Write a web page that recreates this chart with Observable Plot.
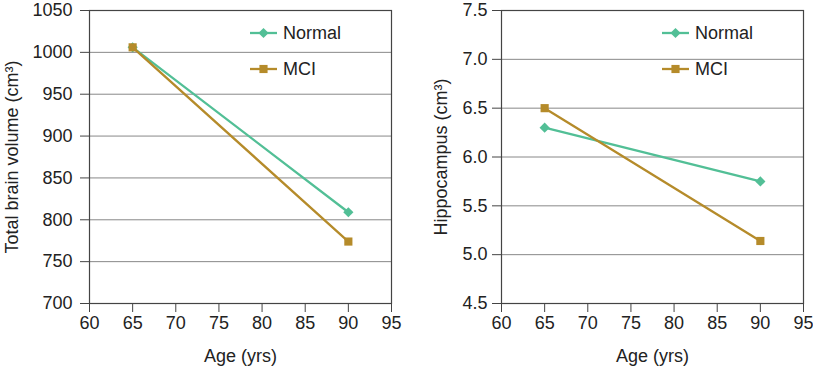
<!DOCTYPE html>
<html>
<head>
<meta charset="utf-8">
<script src="https://cdn.jsdelivr.net/npm/d3@7"></script>
<script src="https://cdn.jsdelivr.net/npm/@observablehq/plot@0.6"></script>
<style>
  html, body { margin: 0; padding: 0; background: #fff; }
  #wrap { display: flex; width: 813px; height: 366px; }
  #wrap svg { font-family: "Liberation Sans", Arial, sans-serif; }
  #wrap svg text { font-size: 18px !important; fill: #222; }
</style>
</head>
<body>
<div id="wrap"></div>
<script>
// Data
const ages = [65, 90];
const brainNormal = [1006, 809];
const brainMCI = [1006, 774];
const hippoNormal = [6.3, 5.75];
const hippoMCI = [6.5, 5.14];
const seriesNames = ["Normal", "MCI"];
const xTicks = [60, 65, 70, 75, 80, 85, 90, 95];
const brainTicks = [700, 750, 800, 850, 900, 950, 1000, 1050];
const hippoTicks = [4.5, 5.0, 5.5, 6.0, 6.5, 7.0, 7.5];

const GREEN = "#52bf96";
const GOLD = "#b58b2a";

function rows(values) {
  return ages.map((a, i) => ({age: a, v: values[i]}));
}

function panel({width, marginLeft, marginRight, yDomain, yTicks, yFormat, yLabel, labelOffset, tickPadding, normal, mci}) {
  const n = rows(normal), m = rows(mci);
  return Plot.plot({
    width, height: 366,
    marginLeft, marginRight, marginTop: 10, marginBottom: 63,
    style: {fontFamily: "Liberation Sans, Arial, sans-serif", fontSize: "18px", color: "#222", background: "#fff"},
    x: {domain: [60, 95]},
    y: {domain: yDomain},
    marks: [
      Plot.gridY(yTicks, {stroke: "#888", strokeOpacity: 1, strokeWidth: 1}),
      Plot.frame({stroke: "#444", strokeWidth: 1.2}),
      Plot.axisY(yTicks, {tickSize: 9, tickPadding, tickFormat: yFormat, stroke: "#444", label: yLabel, labelAnchor: "center", labelArrow: "none", labelOffset}),
      Plot.axisX(xTicks, {tickSize: 9, tickPadding: 4, stroke: "#444", label: "Age (yrs)", labelAnchor: "center", labelArrow: "none", labelOffset: 58}),
      Plot.line(n, {x: "age", y: "v", stroke: GREEN, strokeWidth: 2.3}),
      Plot.dot(n, {x: "age", y: "v", symbol: "diamond2", r: 4.6, fill: GREEN, stroke: "none"}),
      Plot.line(m, {x: "age", y: "v", stroke: GOLD, strokeWidth: 2.3}),
      Plot.dot(m, {x: "age", y: "v", symbol: "square", r: 4.6, fill: GOLD, stroke: "none"})
    ]
  });
}

function addLegend(svg, x0) {
  const g = d3.select(svg).append("g").attr("class", "legend").attr("text-anchor", "start");
  const items = [
    {name: seriesNames[0], color: GREEN, sym: d3.symbolDiamond2, y: 33},
    {name: seriesNames[1], color: GOLD, sym: d3.symbolSquare, y: 69}
  ];
  items.forEach(it => {
    g.append("line").attr("x1", x0).attr("x2", x0 + 27).attr("y1", it.y).attr("y2", it.y)
      .attr("stroke", it.color).attr("stroke-width", 2.3);
    g.append("path").attr("d", d3.symbol(it.sym, Math.PI * 4.6 * 4.6)())
      .attr("transform", `translate(${x0 + 13.5},${it.y})`).attr("fill", it.color);
    g.append("text").attr("x", x0 + 33).attr("y", it.y).attr("dy", "0.36em")
      .attr("text-anchor", "start").text(it.name);
  });
}

const wrap = document.getElementById("wrap");
const left = panel({
  width: 406, marginLeft: 89, marginRight: 15,
  yDomain: [700, 1050], yTicks: brainTicks, yFormat: d => String(d),
  yLabel: "Total brain volume (cm³)", labelOffset: 84, tickPadding: 8,
  normal: brainNormal, mci: brainMCI
});
addLegend(left, 250);
const right = panel({
  width: 407, marginLeft: 95, marginRight: 10,
  yDomain: [4.5, 7.5], yTicks: hippoTicks, yFormat: d3.format(".1f"),
  yLabel: "Hippocampus (cm³)", labelOffset: 67, tickPadding: 5,
  normal: hippoNormal, mci: hippoMCI
});
addLegend(right, 256);
wrap.appendChild(left);
wrap.appendChild(right);
</script>
</body>
</html>
